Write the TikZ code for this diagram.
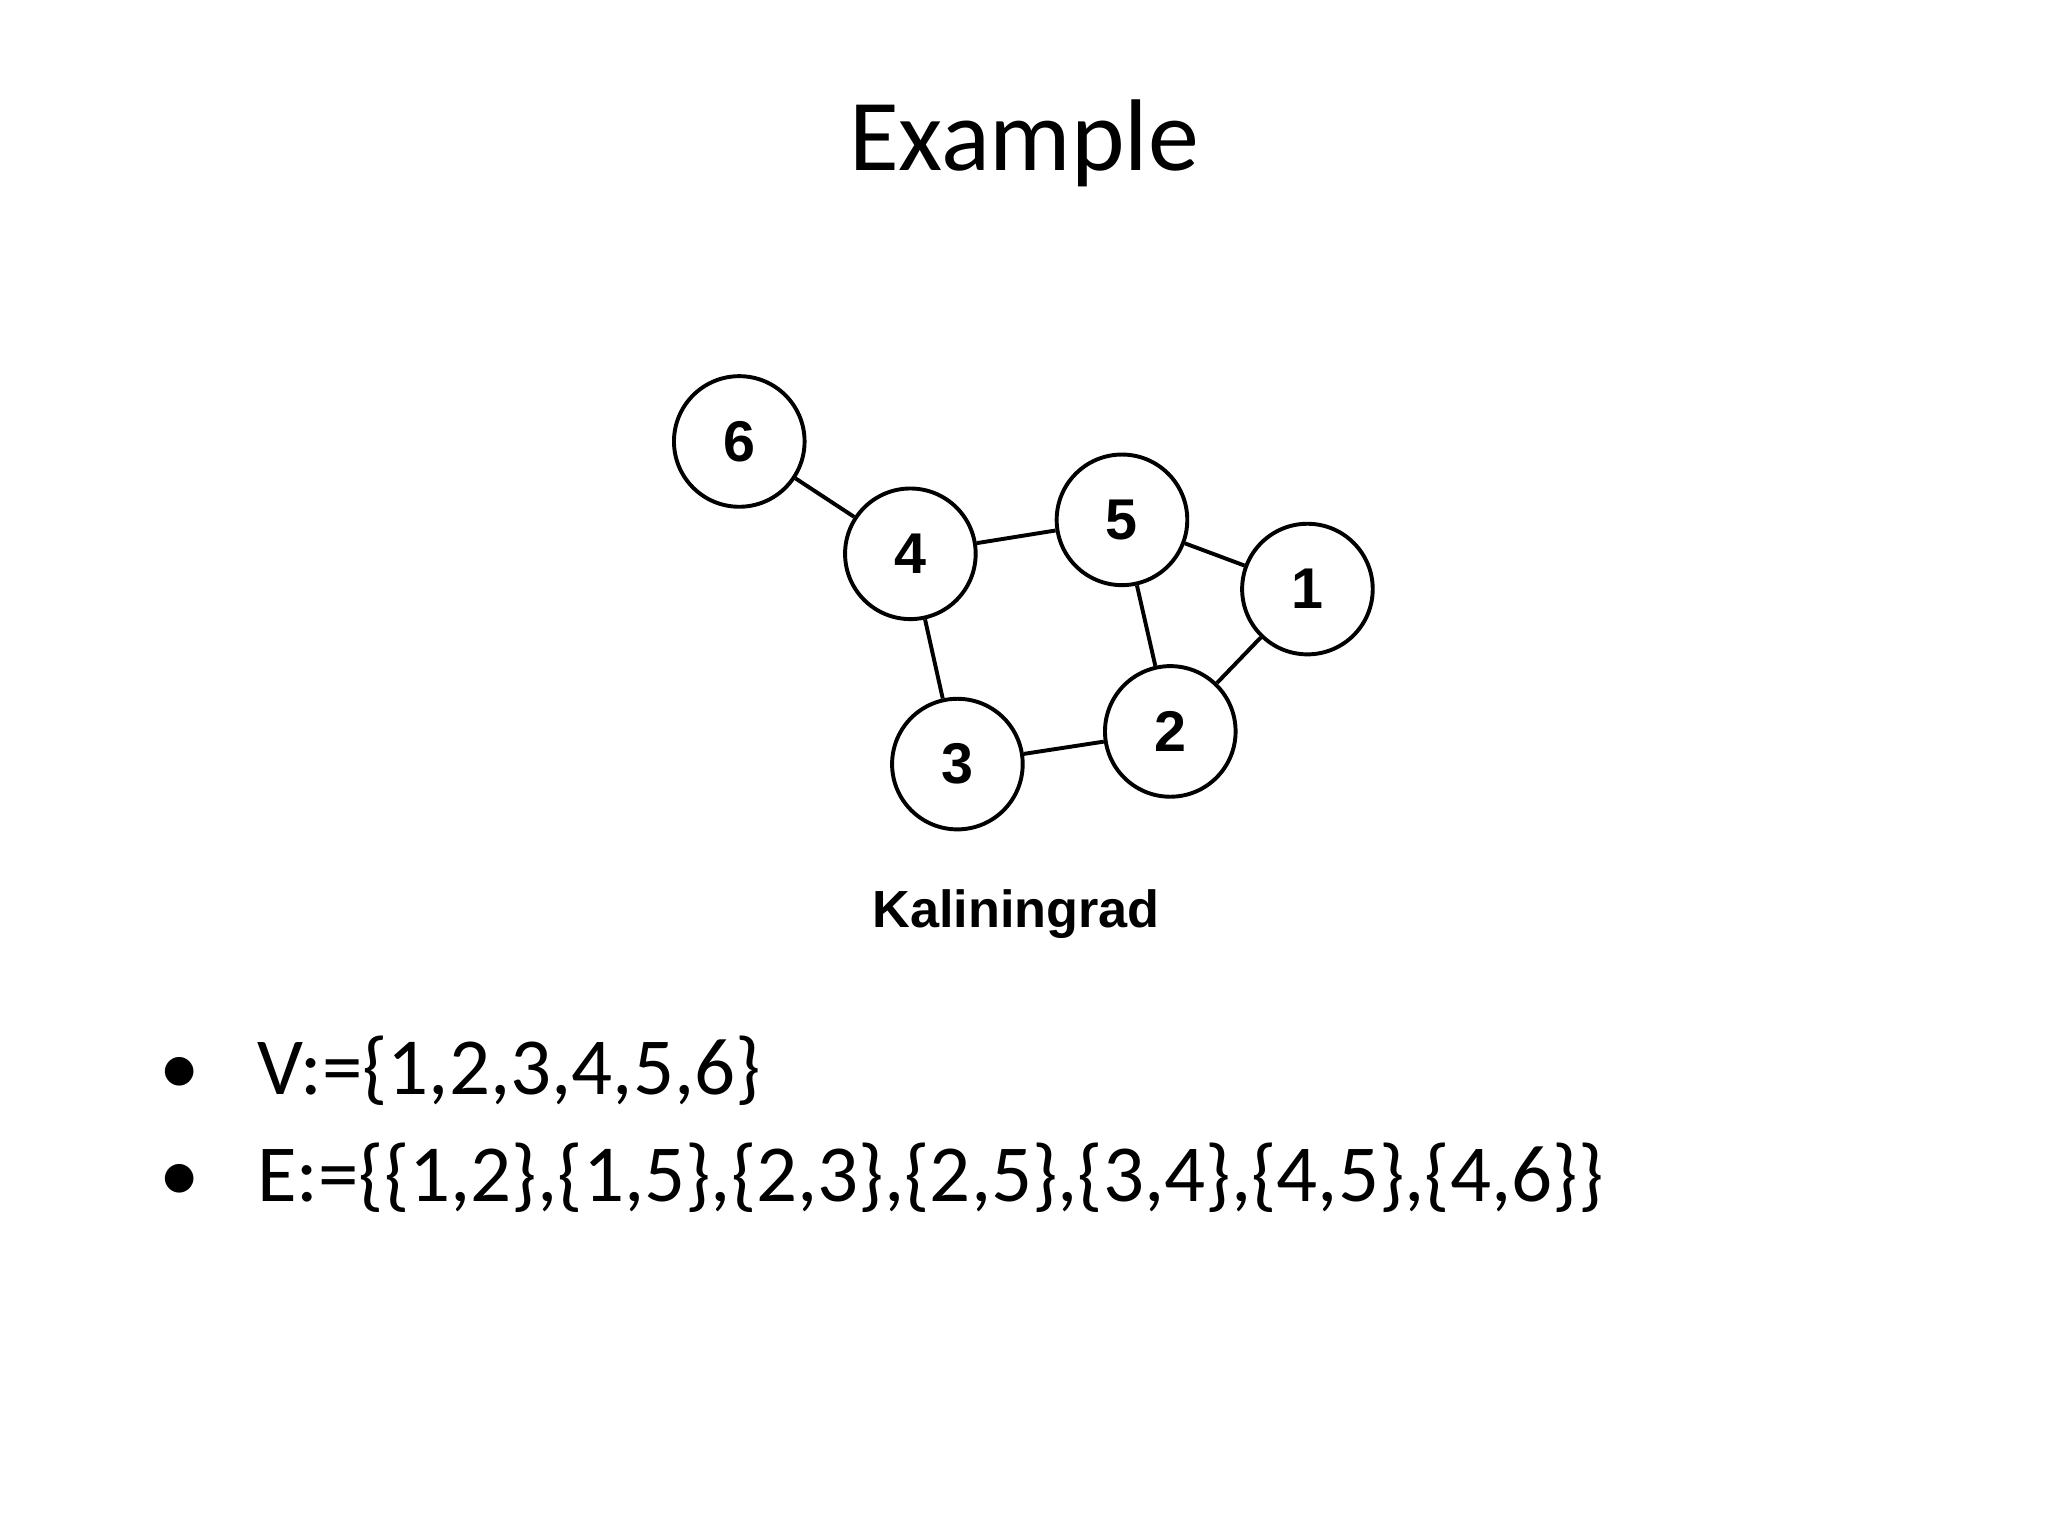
\documentclass[tikz,border=0pt]{standalone}
\usepackage{fontspec}
\setmainfont{Carlito}
\newfontfamily\arialf{Liberation Sans}
\begin{document}
\begin{tikzpicture}[x=0.5pt,y=-0.5pt,
  vtx/.style={circle,draw,line width=1.5pt,minimum size=50pt,inner sep=0pt,font=\arialf\bfseries\fontsize{22}{24}\selectfont},
  edge/.style={line width=1.5pt}]
\useasboundingbox[fill=white] (0,0) rectangle (1568,1176);
\node (title) at (784,110) {\fontsize{39}{44}\selectfont Example};
\node[vtx] (n6) at (566,338) {6};
\node[vtx] (n4) at (697,424) {4};
\node[vtx] (n5) at (859,398) {5};
\node[vtx] (n1) at (1001,451) {1};
\node[vtx] (n2) at (896,560) {2};
\node[vtx] (n3) at (733,585) {3};
\draw[edge] (n6)--(n4) (n4)--(n5) (n5)--(n1) (n1)--(n2) (n5)--(n2) (n4)--(n3) (n3)--(n2);
\node (cap) at (778,700) {\arialf\bfseries\fontsize{20}{24}\selectfont Kaliningrad};
\node[anchor=base west] (b1) at (115,838) {\fontsize{31}{36}\selectfont •\hspace{22pt}V:=\{1,2,3,4,5,6\}};
\node[anchor=base west] (b2) at (115,920) {\fontsize{31}{36}\selectfont •\hspace{22pt}E:=\{\{1,2\},\{1,5\},\{2,3\},\{2,5\},\{3,4\},\{4,5\},\{4,6\}\}};
\end{tikzpicture}
\end{document}
